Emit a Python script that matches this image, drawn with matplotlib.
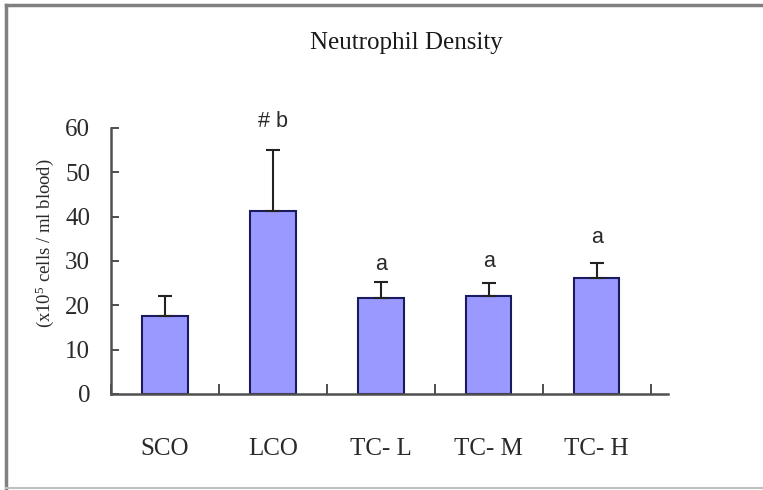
import matplotlib.pyplot as plt
import numpy as np
from matplotlib.lines import Line2D

plt.rcParams['font.family'] = 'Liberation Serif'
plt.rcParams['mathtext.fontset'] = 'custom'
plt.rcParams['mathtext.rm'] = 'Liberation Serif'
plt.rcParams['mathtext.default'] = 'regular'

# Данные
groups = ['SCO', 'LCO', 'TC- L', 'TC- M', 'TC- H']
means = [17.6, 41.3, 21.7, 22.0, 26.2]
errors = [4.5, 13.7, 3.6, 3.0, 3.4]
marks = ['', '# b', 'a', 'a', 'a']
mark_y = [0, 61.5, 29.1, 29.8, 35.2]

fig = plt.figure(figsize=(7.63, 4.9), dpi=100)
ax = fig.add_axes([0.1455, 0.196, 0.730, 0.543])

x = np.arange(len(groups))
ax.bar(x, means, width=0.42, color='#9999FF', edgecolor='#1a1a5e', linewidth=1.5, zorder=2)
ax.errorbar(x, means, yerr=[np.zeros(len(errors)), errors], fmt='none',
            ecolor='#222222', elinewidth=1.5, capsize=5, capthick=1.5, zorder=3)

for xi, m, yy in zip(x, marks, mark_y):
    if m:
        ax.text(xi, yy, m, ha='center', va='center', fontsize=15.5,
                family='Liberation Sans', color='#2a2a2a')

# Оси
ax.set_xlim(-0.5, 4.66)
ax.set_ylim(0, 60)
ax.set_yticks(range(0, 61, 10))
ax.set_xticks(np.arange(-0.5, 4.6, 1.0))
ax.set_xticklabels([])
ax.set_xticks(x, minor=True)
ax.set_xticklabels(groups, minor=True)
ax.tick_params(axis='x', which='major', direction='in', length=7, width=1.3, color='#404040')
ax.tick_params(axis='x', which='minor', length=0, pad=32, labelsize=18, labelcolor='#2a2a2a')
ax.tick_params(axis='y', direction='in', length=6, width=1.3, color='#404040',
               pad=15, labelsize=18, labelcolor='#2a2a2a')

for side in ['top', 'right']:
    ax.spines[side].set_visible(False)
for side in ['left', 'bottom']:
    ax.spines[side].set_linewidth(1.8)
    ax.spines[side].set_color('#505050')

fig.text(0.059, 0.504, r'(x10$^{5}$ cells / ml blood)', rotation=90,
         ha='center', va='center', fontsize=13.5, color='#2a2a2a')
fig.text(0.532, 0.912, 'Neutrophil Density', ha='center', va='center',
         fontsize=18, color='#1a1a1a')

# Рамка
fig.add_artist(Line2D([0.008, 0.008], [0.0, 0.99], color='#808080', linewidth=2.5))
fig.add_artist(Line2D([0.008, 1.0], [0.99, 0.99], color='#808080', linewidth=2.5))
fig.add_artist(Line2D([0.008, 1.0], [0.004, 0.004], color='#c0c0c0', linewidth=1.5))

plt.savefig('out.png', dpi=100)
